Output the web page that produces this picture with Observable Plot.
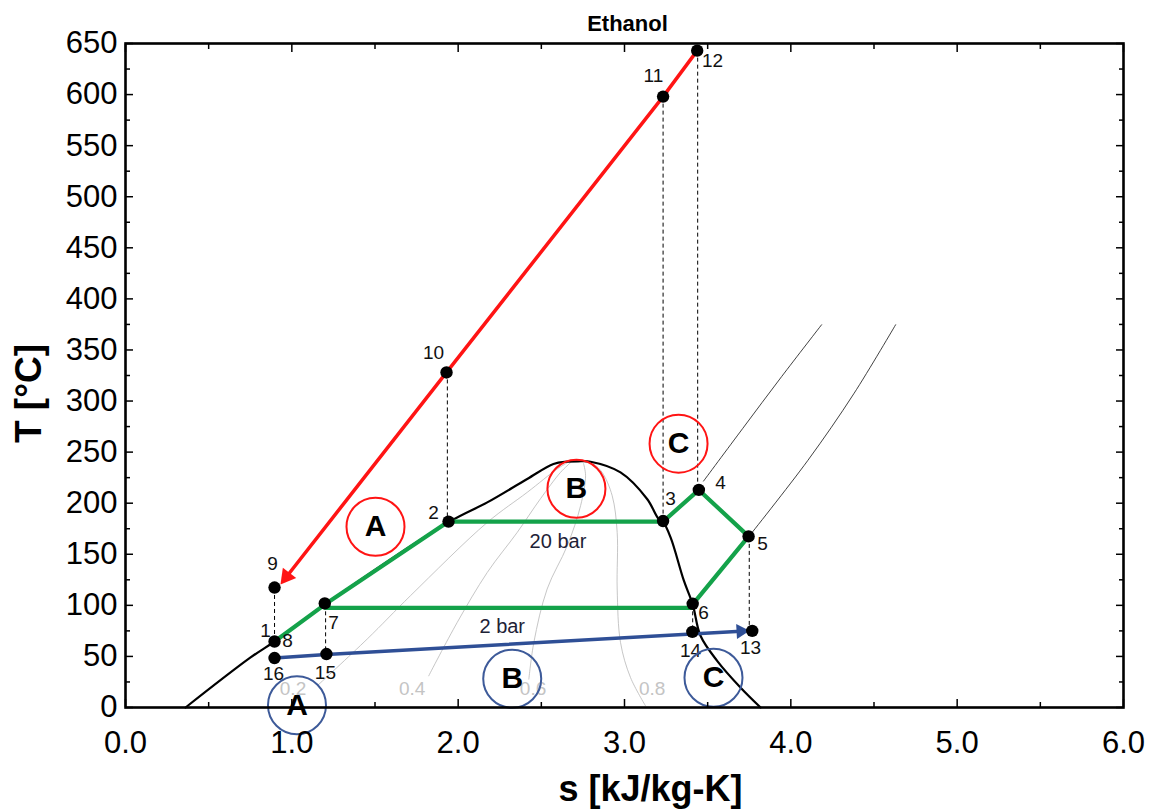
<!DOCTYPE html>
<html><head><meta charset="utf-8">
<script src="https://cdn.jsdelivr.net/npm/d3@7"></script>
<script src="https://cdn.jsdelivr.net/npm/@observablehq/plot@0.6"></script>
<style>body{margin:0;background:#fff;}</style>
</head><body><div id="chart"></div>
<script>
// ---------- data ----------
const xTicks = [0, 1, 2, 3, 4, 5, 6];
const xMinor = [0.5, 1.5, 2.5, 3.5, 4.5, 5.5];
const yTicks = d3.range(0, 651, 50);
const yMinor = d3.range(25, 650, 50);

// saturation dome
const domeS = [0.361, 0.752, 0.896, 1.2, 1.944, 2.175, 2.415, 2.573, 2.656, 2.72, 2.796, 2.976, 3.136, 3.206, 3.229, 3.277, 3.357, 3.41, 3.457, 3.557, 3.697, 3.818];
const domeT = [0, 49, 64.6, 101, 181.5, 200.8, 223.7, 238.4, 240.6, 241, 240.6, 230.1, 204.1, 184.5, 182.5, 166.5, 124.1, 101, 70.2, 45.7, 19.6, 0];

// quality lines
const q02S = [1.153, 1.453, 1.713, 2.175, 2.415, 2.595, 2.66];
const q02T = [21.3, 67, 109.4, 181.2, 210.6, 233.5, 240];
const q04S = [1.823, 1.994, 2.175, 2.355, 2.495, 2.615, 2.675];
const q04T = [31, 83.2, 132.2, 171.4, 204.4, 230.1, 239.6];
const q06S = [2.425, 2.455, 2.535, 2.656, 2.736, 2.766, 2.754];
const q06T = [27.8, 63.7, 116, 158.4, 197.5, 226.9, 238.7];
const q08S = [3.126, 3.036, 2.976, 2.956, 2.956, 2.926, 2.866, 2.816];
const q08T = [1.7, 29.4, 63.7, 116, 171.4, 207.3, 230.1, 238.4];
const qualityLabels = ["0.2", "0.4", "0.6", "0.8"];
const qualityLabelS = [1.007, 1.723, 2.45, 3.166];
const qualityLabelT = [17.8, 17.8, 17.8, 17.8];

// isobars in superheated region
const iso1S = [3.475, 3.71, 3.945, 4.185];
const iso1T = [221.6, 273, 324, 374.7];
const iso2S = [3.746, 4.101, 4.378, 4.63];
const iso2T = [167, 241.6, 307, 374.7];

// cycle paths
const greenS = [0.896, 1.2, 1.942, 3.232, 3.447, 3.746, 3.41, 3.40, 1.2];
const greenT = [64.6, 101, 182, 182, 213, 167.5, 101, 97.5, 97.5];
const redS = [3.437, 3.232, 1.93, 0.968];
const redT = [643, 598, 328, 128];
const blueS = [0.896, 1.208, 3.70];
const blueT = [48.4, 52, 74.6];

// state points
const pointNames = ["1", "9", "16", "7", "15", "10", "2", "3", "11", "12", "4", "5", "6", "14", "13"];
const pointS = [0.896, 0.896, 0.896, 1.198, 1.208, 1.93, 1.942, 3.232, 3.232, 3.437, 3.447, 3.746, 3.41, 3.408, 3.768];
const pointT = [64.6, 117.4, 48.4, 101.9, 52.3, 328, 182, 182.5, 598, 643, 213, 167.5, 101.5, 74, 75];

// point labels
const labelText = ["12", "11", "10", "9", "1", "8", "16", "15", "7", "2", "3", "4", "5", "6", "14", "13"];
const labelS = [3.529, 3.174, 1.852, 0.884, 0.842, 0.974, 0.890, 1.202, 1.251, 1.852, 3.277, 3.577, 3.83, 3.475, 3.397, 3.758];
const labelT = [633.3, 618.6, 347.4, 140.7, 75.1, 65.3, 33, 34, 83, 190.7, 204.4, 220, 160.3, 92.7, 55.5, 58.5];

// dashed verticals
const dashS = [0.896, 1.203, 1.935, 3.232, 3.44, 3.75, 3.41];
const dashTop = [117, 101, 328, 598, 643, 167, 101];
const dashBottom = [64, 52, 182, 183, 213, 75, 74];

// circled letters
const letters = ["A", "B", "C"];
const redCircleS = [1.503, 2.711, 3.325];
const redCircleT = [176.9, 214.2, 258.3];
const blueCircleS = [1.031, 2.325, 3.535];
const blueCircleT = [2.2, 28.1, 29.1];

// pressure labels
const pressureText = ["20 bar", "2 bar"];
const pressureS = [2.6, 2.265];
const pressureT = [162, 79.3];

// ---------- build ----------
const W = 1151, H = 812, mL = 125, mR = 28, mT = 43, mB = 105;
const xDomain = [0, 6], yDomain = [0, 650];
const zipST = (S, T) => S.map((s, i) => ({s, T: T[i]}));

const sx = Plot.scale({x: {domain: xDomain, range: [mL, W - mR]}});
const sy = Plot.scale({y: {domain: yDomain, range: [H - mB, mT]}});
function headAngle(S, T) {
  const n = S.length;
  const dx = sx.apply(S[n - 1]) - sx.apply(S[n - 2]);
  const dy = sy.apply(T[n - 1]) - sy.apply(T[n - 2]);
  return Math.atan2(dx, -dy) * 180 / Math.PI;
}
const redHead = [{s: redS[redS.length - 1], T: redT[redT.length - 1]}];
const blueHead = [{s: blueS[blueS.length - 1], T: blueT[blueT.length - 1]}];

const qualityLines = [[q02S, q02T], [q04S, q04T], [q06S, q06T], [q08S, q08T]];
const points = pointNames.map((n, i) => ({n, s: pointS[i], T: pointT[i]}));
const labels = labelText.map((t, i) => ({t, s: labelS[i], T: labelT[i]}));
const dashes = dashS.map((s, i) => ({s, t1: dashTop[i], t2: dashBottom[i]}));
const redCircles = letters.map((l, i) => ({l, s: redCircleS[i], T: redCircleT[i]}));
const blueCircles = letters.map((l, i) => ({l, s: blueCircleS[i], T: blueCircleT[i]}));
const qLabels = qualityLabels.map((t, i) => ({t, s: qualityLabelS[i], T: qualityLabelT[i]}));
const pLabels = pressureText.map((t, i) => ({t, s: pressureS[i], T: pressureT[i]}));

const font = "'Liberation Sans', Arial, Helvetica, sans-serif";

const plot = Plot.plot({
  width: W, height: H,
  marginLeft: mL, marginRight: mR, marginTop: mT, marginBottom: mB,
  style: {fontFamily: font, background: "#fff", overflow: "visible"},
  x: {domain: xDomain, axis: null},
  y: {domain: yDomain, axis: null},
  marks: [
    // quality lines
    ...qualityLines.map(([S, T]) => Plot.line(zipST(S, T), {x: "s", y: "T", stroke: "#b8b8b8", strokeWidth: 0.8, curve: "catmull-rom"})),
    Plot.text(qLabels, {x: "s", y: "T", text: "t", fill: "#c4c4c4", fontSize: 19}),
    // isobars
    Plot.line(zipST(iso1S, iso1T), {x: "s", y: "T", stroke: "#111", strokeWidth: 0.8, curve: "catmull-rom"}),
    Plot.line(zipST(iso2S, iso2T), {x: "s", y: "T", stroke: "#111", strokeWidth: 0.8, curve: "catmull-rom"}),
    // dome
    Plot.line(zipST(domeS, domeT), {x: "s", y: "T", stroke: "#000", strokeWidth: 2.2, curve: "catmull-rom"}),
    // dashed verticals
    Plot.link(dashes, {x1: "s", x2: "s", y1: "t1", y2: "t2", stroke: "#000", strokeWidth: 1, strokeDasharray: "4,3"}),
    // cycle paths
    Plot.line(zipST(greenS, greenT), {x: "s", y: "T", stroke: "#14a24a", strokeWidth: 4.2, strokeLinejoin: "round"}),
    Plot.line(zipST(redS, redT), {x: "s", y: "T", stroke: "#ff1414", strokeWidth: 3.5}),
    Plot.line(zipST(blueS, blueT), {x: "s", y: "T", stroke: "#2f4f96", strokeWidth: 3.5}),
    Plot.dot(redHead, {x: "s", y: "T", symbol: "triangle", r: 6.3, fill: "#ff1414", stroke: "none", rotate: headAngle(redS, redT)}),
    Plot.dot(blueHead, {x: "s", y: "T", symbol: "triangle", r: 5.6, fill: "#2f4f96", stroke: "none", rotate: headAngle(blueS, blueT)}),
    // state points
    Plot.dot(points, {x: "s", y: "T", r: 6.2, fill: "#000"}),
    Plot.text(labels, {x: "s", y: "T", text: "t", fontSize: 19, fill: "#111"}),
    Plot.text(pLabels, {x: "s", y: "T", text: "t", fontSize: 20, fill: "#1e2236"}),
    // circled letters
    Plot.dot(redCircles, {x: "s", y: "T", r: 29, stroke: "#ff1414", strokeWidth: 2, fill: "none"}),
    Plot.text(redCircles, {x: "s", y: "T", text: "l", fontSize: 30, fontWeight: "bold", fill: "#000"}),
    Plot.dot(blueCircles, {x: "s", y: "T", r: 29, stroke: "#3d5a99", strokeWidth: 2, fill: "none"}),
    Plot.text(blueCircles, {x: "s", y: "T", text: "l", fontSize: 30, fontWeight: "bold", fill: "#000"}),
    // frame and ticks
    Plot.frame({stroke: "#000", strokeWidth: 2.6}),
    Plot.axisX({ticks: xTicks, anchor: "bottom", tickSize: -8, fill: "none", strokeWidth: 1.5}),
    Plot.axisX({ticks: xMinor, anchor: "bottom", tickSize: -5, fill: "none", strokeWidth: 1.5}),
    Plot.axisX({ticks: xTicks, anchor: "top", tickSize: -8, fill: "none", strokeWidth: 1.5}),
    Plot.axisX({ticks: xMinor, anchor: "top", tickSize: -5, fill: "none", strokeWidth: 1.5}),
    Plot.axisY({ticks: yTicks, anchor: "left", tickSize: -8, fill: "none", strokeWidth: 1.5}),
    Plot.axisY({ticks: yMinor, anchor: "left", tickSize: -5, fill: "none", strokeWidth: 1.5}),
    Plot.axisY({ticks: yTicks, anchor: "right", tickSize: -8, fill: "none", strokeWidth: 1.5}),
    Plot.axisY({ticks: yMinor, anchor: "right", tickSize: -5, fill: "none", strokeWidth: 1.5}),
    Plot.axisX({ticks: xTicks, anchor: "bottom", tickSize: 0, tickPadding: 23, tickFormat: d3.format(".1f"), fontSize: 31, label: null}),
    Plot.axisY({ticks: yTicks, anchor: "left", tickSize: 0, tickPadding: 8, fontSize: 31, label: null}),
    // titles
    Plot.text([0], {frameAnchor: "top", text: () => "Ethanol", fontSize: 22, fontWeight: "bold", textAnchor: "middle", lineAnchor: "middle", dx: 3, dy: -20}),
    Plot.text([0], {frameAnchor: "bottom", text: () => "s [kJ/kg-K]", fontSize: 36, fontWeight: "bold", textAnchor: "middle", lineAnchor: "middle", dx: 26, dy: 82}),
    Plot.text([0], {frameAnchor: "left", text: () => "T [°C]", fontSize: 37, fontWeight: "bold", textAnchor: "middle", lineAnchor: "middle", rotate: -90, dx: -96, dy: 18})
  ]
});
document.getElementById("chart").appendChild(plot);
</script>
</body></html>
